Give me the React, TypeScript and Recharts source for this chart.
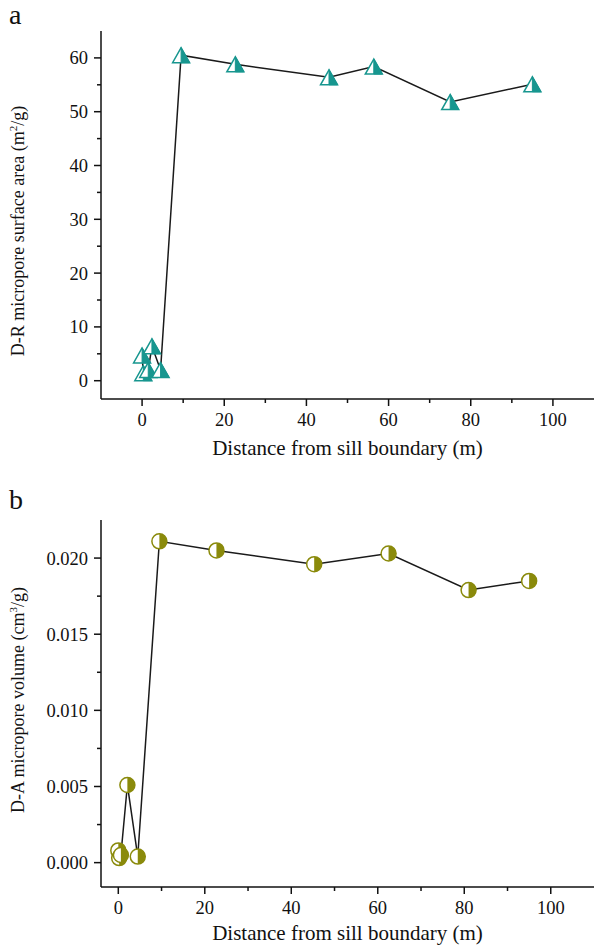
import { LineChart, Line, XAxis, YAxis } from 'recharts'

const FONT = '"Liberation Serif", "Times New Roman", serif'
const INK = '#111111'
const TEAL = '#17968f'
const OLIVE = '#8a8a0b'

// panel a: D-R micropore surface area vs distance
const distanceA = [0, 0.3, 1.5, 2.4, 4.5, 9.5, 22.7, 45.5, 56.4, 75, 95]
const surfaceArea = [4.7, 1.4, 2.0, 6.4, 2.0, 60.5, 58.8, 56.4, 58.4, 51.8, 55.1]

// panel b: D-A micropore volume vs distance
const distanceB = [0, 0.2, 0.6, 2.1, 4.5, 9.5, 22.7, 45.3, 62.5, 81, 95]
const microVolume = [0.0008, 0.0003, 0.0005, 0.0051, 0.0004, 0.0211, 0.0205, 0.0196, 0.0203, 0.0179, 0.0185]

const xTicks = [0, 10, 20, 30, 40, 50, 60, 70, 80, 90, 100]
const xMajor = [0, 20, 40, 60, 80, 100]
const yTicksA = [0, 5, 10, 15, 20, 25, 30, 35, 40, 45, 50, 55, 60]
const yMajorA = [0, 10, 20, 30, 40, 50, 60]
const yTicksB = [0, 0.0025, 0.005, 0.0075, 0.01, 0.0125, 0.015, 0.0175, 0.02]
const yMajorB = [0, 0.005, 0.01, 0.015, 0.02]

function zip(xs: number[], ys: number[]) {
  return xs.map((x, i) => ({ x, y: ys[i] }))
}

function TriangleMark({ cx, cy }: { cx: number; cy: number }) {
  const w = 8.5
  const h = 7.5
  return (
    <g>
      <polygon points={`${cx},${cy - h} ${cx - w},${cy + h} ${cx + w},${cy + h}`} fill="#fff" stroke={TEAL} strokeWidth={1.5} />
      <polygon points={`${cx},${cy - h} ${cx + w},${cy + h} ${cx},${cy + h}`} fill={TEAL} stroke={TEAL} strokeWidth={1} />
    </g>
  )
}

function HalfCircleMark({ cx, cy }: { cx: number; cy: number }) {
  const r = 7.5
  return (
    <g>
      <circle cx={cx} cy={cy} r={r} fill="#fff" stroke={OLIVE} strokeWidth={1.5} />
      <path d={`M${cx},${cy - r} A${r},${r} 0 0 1 ${cx},${cy + r} Z`} fill={OLIVE} />
    </g>
  )
}

function makeXTick(major: number[]) {
  return (props: any) => {
    const { x, y, payload } = props
    const isMajor = major.includes(payload.value)
    return (
      <g>
        <line x1={x} x2={x} y1={y} y2={y + (isMajor ? 7 : 4)} stroke={INK} strokeWidth={1.5} />
        {isMajor && (
          <text x={x} y={y + 27} textAnchor="middle" fontSize={18.5} fontFamily={FONT} fill={INK}>
            {payload.value}
          </text>
        )}
      </g>
    )
  }
}

function makeYTick(major: number[], fmt: (v: number) => string) {
  return (props: any) => {
    const { x, y, payload } = props
    const isMajor = major.includes(payload.value)
    return (
      <g>
        <line x1={x} x2={x - (isMajor ? 7 : 4)} y1={y} y2={y} stroke={INK} strokeWidth={1.5} />
        {isMajor && (
          <text x={x - 13} y={y} dy="0.35em" textAnchor="end" fontSize={18.5} fontFamily={FONT} fill={INK}>
            {fmt(payload.value)}
          </text>
        )}
      </g>
    )
  }
}

interface PanelProps {
  data: { x: number; y: number }[]
  height: number
  top: number
  xAxisHeight: number
  xDomain: [number, number]
  yDomain: [number, number]
  yTicks: number[]
  yMajor: number[]
  fmt: (v: number) => string
  mark: 'tri' | 'circ'
  letter: string
  letterY: number
  yTitle: string
  unit: string
  sup: string
  titleY: number
  xTitleOffset: number
}

function Panel(p: PanelProps) {
  const dot = (d: any) =>
    p.mark === 'tri' ? <TriangleMark key={`d-${d.index}`} cx={d.cx} cy={d.cy} /> : <HalfCircleMark key={`d-${d.index}`} cx={d.cx} cy={d.cy} />
  return (
    <LineChart width={595} height={p.height} data={p.data} margin={{ top: p.top, right: 1, bottom: 0, left: 0 }}>
      <XAxis
        dataKey="x"
        type="number"
        domain={p.xDomain}
        ticks={xTicks}
        interval={0}
        allowDataOverflow
        tickSize={0}
        tickMargin={0}
        tickLine={false}
        height={p.xAxisHeight}
        axisLine={{ stroke: INK, strokeWidth: 1.5 }}
        tick={makeXTick(xMajor)}
        label={(lp: any) => {
          const vb = lp.viewBox
          return (
            <text x={vb.x + vb.width / 2} y={vb.y + vb.height - p.xTitleOffset} textAnchor="middle" fontSize={21} fontFamily={FONT} fill={INK}>
              Distance from sill boundary (m)
            </text>
          )
        }}
      />
      <YAxis
        dataKey="y"
        type="number"
        domain={p.yDomain}
        ticks={p.yTicks}
        interval={0}
        allowDataOverflow
        tickSize={0}
        tickMargin={0}
        tickLine={false}
        width={101}
        axisLine={{ stroke: INK, strokeWidth: 1.5 }}
        tick={makeYTick(p.yMajor, p.fmt)}
        label={() => (
          <g>
            <text x={9} y={p.letterY} fontSize={28} fontFamily={FONT} fill={INK}>
              {p.letter}
            </text>
            <text
              x={24}
              y={p.titleY}
              transform={`rotate(-90, 24, ${p.titleY})`}
              textAnchor="middle"
              fontSize={18}
              fontFamily={FONT}
              fill={INK}
            >
              {p.yTitle} ({p.unit}
              <tspan dy={-7} fontSize={11}>{p.sup}</tspan>
              <tspan dy={7}>/g)</tspan>
            </text>
          </g>
        )}
      />
      <Line
        type="linear"
        dataKey="y"
        stroke="#1a1a1a"
        strokeWidth={1.5}
        dot={dot}
        activeDot={false}
        isAnimationActive={false}
      />
    </LineChart>
  )
}

export default function App() {
  return (
    <div style={{ position: 'absolute', left: 0, top: 0, width: 595, height: 947, background: '#fff' }}>
      <Panel
        data={zip(distanceA, surfaceArea)}
        height={470}
        top={31}
        xAxisHeight={71}
        xDomain={[-10, 110]}
        yDomain={[-3.4, 65]}
        yTicks={yTicksA}
        yMajor={yMajorA}
        fmt={(v) => String(v)}
        mark="tri"
        letter="a"
        letterY={24}
        yTitle="D-R micropore surface area"
        unit="m"
        sup="2"
        titleY={231}
        xTitleOffset={15}
      />
      <Panel
        data={zip(distanceB, microVolume)}
        height={477}
        top={50}
        xAxisHeight={60}
        xDomain={[-4, 110]}
        yDomain={[-0.0016, 0.0225]}
        yTicks={yTicksB}
        yMajor={yMajorB}
        fmt={(v) => v.toFixed(3)}
        mark="circ"
        letter="b"
        letterY={39}
        yTitle="D-A micropore volume"
        unit="cm"
        sup="3"
        titleY={230}
        xTitleOffset={7}
      />
    </div>
  )
}
